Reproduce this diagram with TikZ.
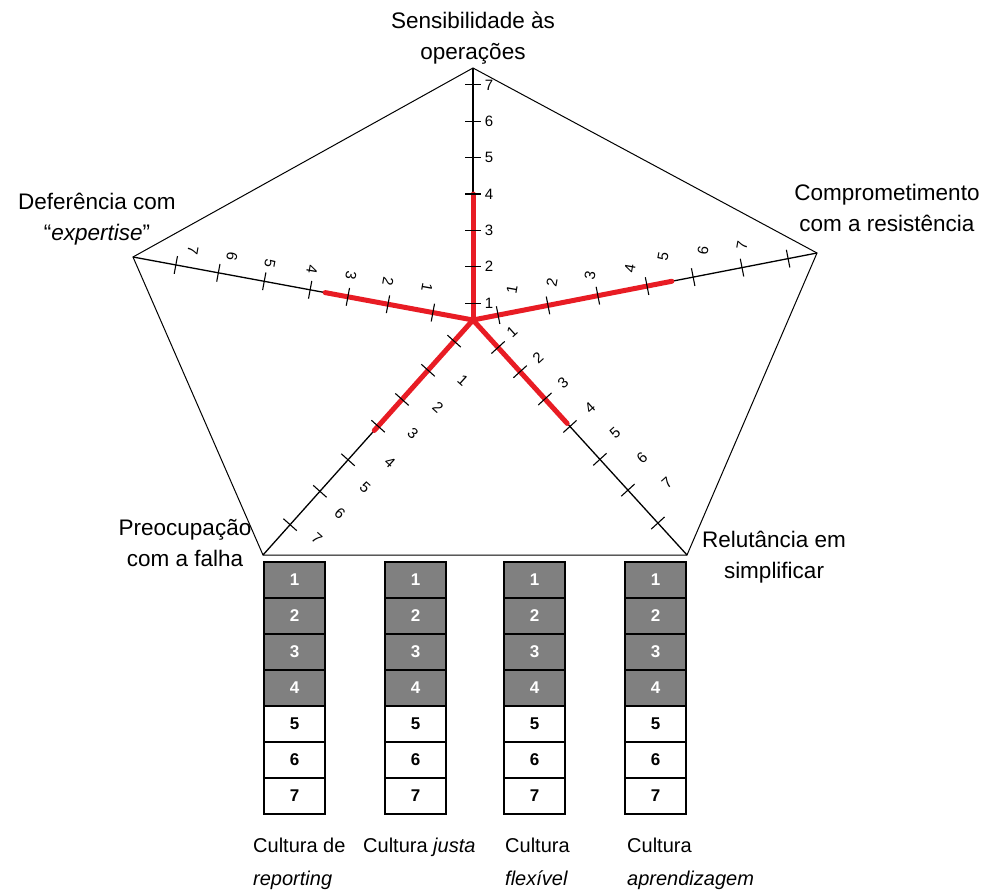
\documentclass[tikz,border=0pt]{standalone}
\usepackage{fontspec}
\setmainfont{Liberation Sans}
\usetikzlibrary{calc}
\definecolor{redline}{RGB}{232,28,36}
\definecolor{boxgray}{RGB}{128,128,128}
\begin{document}
\begin{tikzpicture}[x=1pt,y=-1pt,
  edge/.style={black,line width=1pt},
  axisline/.style={black,line width=1.3pt},
  tickmark/.style={black,line width=1.1pt},
  redbar/.style={redline,line width=5pt,line cap=round},
  ticklabel/.style={font=\fontsize{15}{15}\selectfont,inner sep=0pt},
  biglabel/.style={font=\fontsize{22.5}{31}\selectfont,align=center,inner sep=0pt},
  cell/.style={draw=black,line width=1.4pt,minimum width=61pt,minimum height=36pt,inner sep=0pt,font=\bfseries\fontsize{17}{17}\selectfont},
  darkcell/.style={cell,fill=boxgray,text=white},
  lightcell/.style={cell,fill=white,text=black},
  caption/.style={font=\fontsize{20}{20}\selectfont,inner sep=0pt,anchor=base west}
]
\useasboundingbox (0,0) rectangle (983,893);

% vertices
\coordinate (C) at (473,320);
\coordinate (VT) at (473,68);
\coordinate (VR) at (817,253);
\coordinate (VBR) at (687,555);
\coordinate (VBL) at (263,555);
\coordinate (VL) at (133,257);

\draw[edge] (VT) -- (VR) -- (VBR) -- (VBL) -- (VL) -- cycle;
\foreach \v in {VT,VR,VBR,VBL,VL} \draw[axisline] (C) -- (\v);

% red values
\draw[redbar] (C) -- ($(C)!0.5!(VT)$);
\draw[redbar] (C) -- ($(C)!0.578!(VR)$);
\draw[redbar] (C) -- ($(C)!0.435!(VL)$);
\draw[redbar] (C) -- ($(C)!0.47!(VBL)$);
\draw[redbar] (C) -- ($(C)!0.44!(VBR)$);

% ticks
\foreach \f in {0.067,0.211,0.356,0.5,0.644,0.788,0.933}{
  \coordinate (p) at ($(C)!\f!(VT)$);
  \draw[tickmark] ($(p)!8pt!90:(VT)$) -- ($(p)!8pt!-90:(VT)$);}
\foreach \f in {0.073,0.218,0.363,0.506,0.640,0.782,0.916}{
  \coordinate (p) at ($(C)!\f!(VR)$);
  \draw[tickmark] ($(p)!9pt!90:(VR)$) -- ($(p)!9pt!-90:(VR)$);}
\foreach \f in {0.118,0.25,0.368,0.479,0.614,0.749,0.874}{
  \coordinate (p) at ($(C)!\f!(VL)$);
  \draw[tickmark] ($(p)!9pt!90:(VL)$) -- ($(p)!9pt!-90:(VL)$);}
\foreach \f in {0.090,0.214,0.338,0.452,0.595,0.729,0.871}{
  \coordinate (p) at ($(C)!\f!(VBL)$);
  \draw[tickmark] ($(p)!9pt!90:(VBL)$) -- ($(p)!9pt!-90:(VBL)$);}
\foreach \f in {0.117,0.22,0.336,0.453,0.593,0.724,0.864}{
  \coordinate (p) at ($(C)!\f!(VBR)$);
  \draw[tickmark] ($(p)!9pt!90:(VBR)$) -- ($(p)!9pt!-90:(VBR)$);}

% tick labels
\foreach \n/\y in {1/303,2/266.7,3/230.4,4/194,5/157.7,6/121.4,7/85}
  \node[ticklabel] (t\n) at (489,\y) {\n};
\foreach \n/\x/\y in {1/512/289,2/552/282,3/590/275,4/630/268,5/663/257,6/703/250,7/742/245}
  \node[ticklabel,rotate=80] (r\n) at (\x,\y) {\n};
\foreach \n/\x/\y in {1/427/288,2/388/282,3/351/276,4/312/270,5/270/263,6/232/257,7/193/251}
  \node[ticklabel,rotate=-100] (l\n) at (\x,\y) {\n};
\foreach \n/\x/\y in {1/463/380,2/438/407,3/413/433,4/390/462,5/365/488,6/340/513,7/317/538}
  \node[ticklabel,rotate=-42] (bl\n) at (\x,\y) {\n};
\foreach \n/\x/\y in {1/512/332,2/538/358,3/563/383,4/590/408,5/615/433,6/642/458,7/667/483}
  \node[ticklabel,rotate=42] (br\n) at (\x,\y) {\n};

% axis titles
\node[biglabel] (lt) at (473,38) {Sensibilidade às\\operações};
\node[biglabel] (lr) at (887,208) {Comprometimento\\com a resistência};
\node[biglabel] (ll) at (97,219) {Deferência com\\“\textit{expertise}”};
\node[biglabel] (lbl) at (185,543) {Preocupação\\com a falha};
\node[biglabel] (lbr) at (774,557) {Relutância em\\simplificar};

% scales
\foreach \c/\x in {a/294.5,b/415.5,c/534.5,d/655.5}{
  \foreach \r in {1,2,3,4}
    \node[darkcell] (\c\r) at (\x,{562+18+36*(\r-1)}) {\r};
  \foreach \r in {5,6,7}
    \node[lightcell] (\c\r) at (\x,{562+18+36*(\r-1)}) {\r};
}

% captions
\node[caption] (ca1) at (253,852) {Cultura de};
\node[caption] (ca2) at (253,885) {\textit{reporting}};
\node[caption] (cb1) at (363,852) {Cultura \textit{justa}};
\node[caption] (cc1) at (505,852) {Cultura};
\node[caption] (cc2) at (505,885) {\textit{flexível}};
\node[caption] (cd1) at (627,852) {Cultura};
\node[caption] (cd2) at (627,885) {\textit{aprendizagem}};
\end{tikzpicture}
\end{document}
